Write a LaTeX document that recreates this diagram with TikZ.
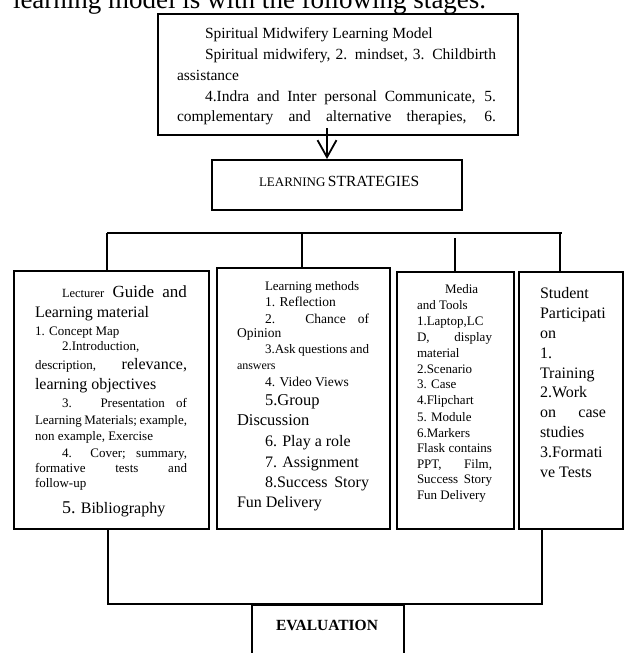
\documentclass[tikz,border=0pt]{standalone}
\usepackage{fontspec}
\setmainfont{Liberation Serif}
\usetikzlibrary{arrows.meta}
\newcommand\fs[2]{\fontsize{#1}{#2}\selectfont}
\newcommand\Ll[3]{{\fs{#1}{#2}\noindent #3\par}}
\newcommand\Lli[4]{{\fs{#1}{#2}\noindent\hspace*{#3}#4\par}}
\newcommand\Lj[3]{{\fs{#1}{#2}\noindent\makebox[\linewidth][s]{#3}\par}}
\newcommand\Lji[4]{{\fs{#1}{#2}\noindent\hspace*{#3}\makebox[\dimexpr\linewidth-#3\relax][s]{#4}\par}}
\newcommand\TB[2]{\parbox[t]{#1}{\setlength\parskip{0pt}\setlength\parindent{0pt}\lineskiplimit=-100pt\relax #2}}
\tikzset{
  box/.style={draw, line width=1.8pt, anchor=north west, inner sep=0pt},
  txt/.style={anchor=base west, inner sep=0pt, outer sep=0pt},
  conn/.style={line width=1.5pt},
  arr/.style={line width=1.8pt, -{Straight Barb[length=17pt,width=19pt]}},
}
\begin{document}
\begin{tikzpicture}[x=1pt,y=-1pt]
\useasboundingbox (0,0) rectangle (624,653);
% heading (cut off at the top, as in the reference)
\node[txt] (head) at (13,9) {\fs{27}{30}learning model is with the following stages.};
% top box
\node[box, minimum width=360pt, minimum height=121pt] (top) at (157,13) {};
\node[txt] (toptext) at (177,38) {\TB{319pt}{%
\Lli{15.5}{0}{28pt}{Spiritual Midwifery Learning Model}
\Lji{15.5}{21}{28pt}{Spiritual midwifery, 2. mindset, 3. Childbirth}
\Ll{15.5}{21}{assistance}
\Lji{15.5}{21}{28pt}{4.Indra and Inter personal Communicate, 5.}
\Lj{15.5}{20}{complementary and alternative therapies, 6.}
}};
% learning strategies
\node[box, minimum width=250pt, minimum height=50pt] (ls) at (211,159) {};
\node[txt] (lstext) at (259,186) {{\fs{13}{15}LEARNING} {\fs{15.5}{18}STRATEGIES}};
\coordinate (a0) at (327,128);
\draw[arr] (a0) -- (a0 |- ls.north);
% four boxes
\node[box, minimum width=195pt, minimum height=258pt] (b1) at (13,270) {};
\node[box, minimum width=173pt, minimum height=261pt] (b2) at (216,267) {};
\node[box, minimum width=117pt, minimum height=257pt] (b3) at (396,271) {};
\node[box, minimum width=104pt, minimum height=257pt] (b4) at (518,271) {};
% bus
\coordinate (busL) at (107,233);
\coordinate (busR) at (562,233);
\coordinate (d2) at (302,233);
\coordinate (d3) at (455,238);
\coordinate (d4) at (560,233);
\draw[conn] (busL) -- (busR);
\draw[conn] (busL) -- (busL |- b1.north);
\draw[conn] (d2) -- (d2 |- b2.north);
\draw[conn] (d3) -- (d3 |- b3.north);
\draw[conn] (d4) -- (d4 |- b4.north);
% box 1 text
\node[txt] (t1) at (35,297) {\TB{152pt}{%
\Lji{17}{0}{27pt}{{\fs{12.5}{15}Lecturer} Guide and}
\Ll{16}{20}{Learning material}
\Ll{13}{18}{1. Concept Map}
\Lli{13}{15}{27pt}{2.Introduction,}
\Lj{16}{19}{{\fs{13}{15}description,} relevance,}
\Ll{16}{20}{learning objectives}
\Lji{13}{18}{27pt}{3. Presentation of}
\Lj{13}{17}{Learning Materials; example,}
\Ll{13}{16}{non example, Exercise}
\Lji{13}{17}{27pt}{4. Cover; summary,}
\Lj{13}{15}{formative tests and}
\Ll{13}{15}{follow-up}
\Lli{16}{26}{27pt}{{\fs{18}{20}5.} Bibliography}
}};
% box 2 text
\node[txt] (t2) at (237,290) {\TB{132pt}{%
\Lli{13}{0}{28pt}{Learning methods}
\Lli{13.5}{16}{28pt}{1. Reflection}
\Lji{13.5}{17}{28pt}{2. Chance of}
\Ll{13.5}{14}{Opinion}
\Lji{13}{16}{28pt}{3.Ask questions and}
\Ll{12}{16}{answers}
\Lli{13.5}{17}{28pt}{4. Video Views}
\Lli{16.5}{19}{28pt}{5.Group}
\Ll{16.5}{20}{Discussion}
\Lli{16}{21}{28pt}{6. Play a role}
\Lli{16}{21}{28pt}{7. Assignment}
\Lji{16}{20}{28pt}{8.Success Story}
\Ll{16}{20}{Fun Delivery}
}};
% box 3 text
\node[txt] (t3) at (417,293) {\TB{75pt}{%
\Lli{13}{0}{28pt}{Media}
\Ll{13}{16}{and Tools}
\Ll{13}{16}{1.Laptop,LC}
\Lj{13}{16}{D, display}
\Ll{13}{16}{material}
\Ll{13}{16}{2.Scenario}
\Ll{13}{15}{3. Case}
\Ll{13}{16}{4.Flipchart}
\Ll{13}{17}{5. Module}
\Ll{13}{16}{6.Markers}
\Lj{13}{15}{Flask contains}
\Lj{13}{16}{PPT, Film,}
\Lj{13}{15}{Success Story}
\Ll{13}{16}{Fun Delivery}
}};
% box 4 text
\node[txt] (t4) at (540,298) {\TB{66pt}{%
\Ll{16}{0}{Student}
\Ll{16}{20}{Participati}
\Ll{16}{20}{on}
\Ll{16}{20}{1.}
\Ll{16}{20}{Training}
\Ll{16}{19.5}{2.Work}
\Lj{16}{20}{on case}
\Ll{16}{20}{studies}
\Ll{16}{19.5}{3.Formati}
\Ll{16}{20}{ve Tests}
}};
% evaluation
\node[box, minimum width=152pt, minimum height=70pt] (ev) at (251,604) {};
\node[anchor=base, inner sep=0pt] (evtext) at (327,630) {\fs{15.5}{18}\bfseries EVALUATION};
\coordinate (e1) at (108,604);
\coordinate (e2) at (542,604);
\draw[conn] (b1.south -| e1) -- (e1) -- (e2) -- (b4.south -| e2);
\end{tikzpicture}
\end{document}
